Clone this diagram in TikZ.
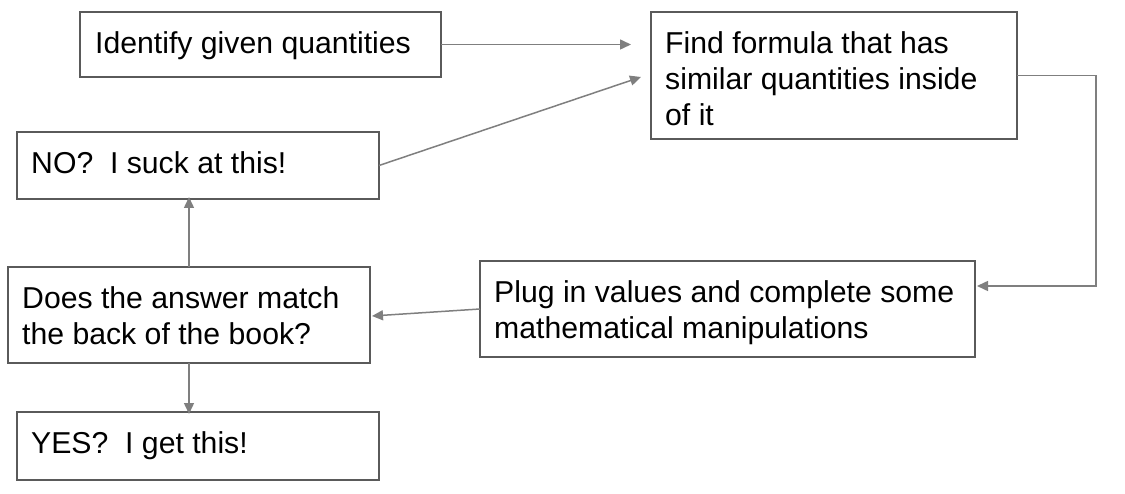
\documentclass[tikz,border=0pt]{standalone}
\usepackage{fontspec}
\setmainfont{Liberation Sans}
\usetikzlibrary{arrows.meta}
\definecolor{boxline}{HTML}{5A5A5A}
\definecolor{arrline}{HTML}{7F7F7F}
\begin{document}
\begin{tikzpicture}[x=1pt,y=-1pt,
  box/.style={draw=boxline, line width=1.8pt, fill=white, anchor=north west, inner sep=0pt, outer sep=0pt},
  txt/.style={anchor=base west, inner sep=0pt, font=\fontsize{30.2}{36}\selectfont, align=left},
  arr/.style={draw=arrline, line width=1.5pt, -{Triangle[length=11pt,width=10pt]}}]
\useasboundingbox (0,0) rectangle (1125,494);
\node[box, minimum width=361pt, minimum height=65pt] (b1) at (80,12) {};
\node[box, minimum width=366pt, minimum height=127pt] (b2) at (651,12) {};
\node[box, minimum width=362pt, minimum height=67pt] (b3) at (17,132) {};
\node[box, minimum width=362pt, minimum height=96pt] (b4) at (8,267) {};
\node[box, minimum width=495pt, minimum height=96pt] (b5) at (480,261) {};
\node[box, minimum width=362pt, minimum height=68pt] (b6) at (17,412) {};

\node[txt] (t1) at (95,53.5) {Identify given quantities};
\node[txt] (t2) at (665,126) {Find formula that has\\similar quantities inside\\of it};
\node[txt] (t3) at (31,173.5) {NO?\ \ I suck at this!};
\node[txt] (t4) at (22,345) {Does the answer match\\the back of the book?};
\node[txt] (t5) at (494,339) {Plug in values and complete some\\mathematical manipulations};
\node[txt] (t6) at (31,453) {YES?\ \ I get this!};

\coordinate (e1) at (631,44.5);
\coordinate (e2) at (641,77);
\coordinate (c1) at (1096,75.5);
\coordinate (c2) at (1096,286);
\coordinate (e3) at (977,286);
\coordinate (e4) at (372,316);

\draw[arr] (b1.east) -- (e1);
\draw[arr] (b3.east) -- (e2);
\draw[arr] (b2.east) -- (c1) -- (c2) -- (e3);
\draw[arr] (b5.west) -- (e4);
\draw[arr] (b4.north) -- ([yshift=2pt]b3.south -| b4.north);
\draw[arr] (b4.south) -- ([yshift=-2pt]b6.north -| b4.south);
\end{tikzpicture}
\end{document}
